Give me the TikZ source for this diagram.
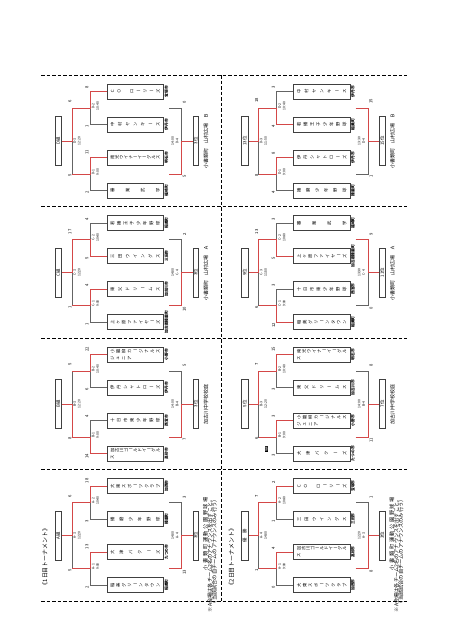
\documentclass[tikz,border=0pt]{standalone}
\usepackage{fontspec}
\setmainfont{Noto Sans CJK JP}
\usepackage{graphicx}
\definecolor{winred}{RGB}{212,72,72}
\definecolor{losegray}{RGB}{100,100,100}

% vertical (tategaki) text, justified along the box
\def\tatechar#1{\ifx#1ー\rotatebox[origin=c]{-90}{ー}\else#1\fi}
\def\tcell#1{\hbox to 6pt{\hss\vbox to 4.4pt{\vss\hbox{\tatechar{#1}}\vss}\hss}}
\def\tatefirst#1{\tcell{#1}\tatenext}
\def\tatenext#1{\ifx#1\relax\else\vfill\tcell{#1}\expandafter\tatenext\fi}
\newcommand\tate[1]{\vbox to 50pt{\offinterlineskip\tatefirst#1\relax}}
\newcommand\tatetwo[2]{\hbox{\tate{#2}\kern1pt\tate{#1}}}

\newcommand\setgroup[3]{\def\ox{#1}\def\yd{#2}\def\pre{#3}}

% one match: vertical x, input x, top y, bottom y, output x, 1 = top wins
\newcommand\match[6]{%
  \pgfmathsetmacro\ym{((#3)+(#4))/2}%
  \ifnum#6=1
    \draw[gl] (#1,\ym) -- (#1,#4) -- (#2,#4);
    \draw[rl] (#2,#3) -- (#1,#3) -- (#1,\ym) -- (#5,\ym);
  \else
    \draw[gl] (#1,\ym) -- (#1,#3) -- (#2,#3);
    \draw[rl] (#2,#4) -- (#1,#4) -- (#1,\ym) -- (#5,\ym);
  \fi}
\newcommand\brlines[4]{%
  \match{\ox+72}{\ox+90}{\yd+33}{\yd+99}{\ox+61.5}{#3}%
  \match{\ox+90}{\ox+107}{\yd+16.5}{\yd+49.5}{\ox+72}{#1}%
  \match{\ox+90}{\ox+107}{\yd+82.5}{\yd+115.5}{\ox+72}{#2}%
  \match{\ox+181.5}{\ox+169}{\yd+33}{\yd+99}{\ox+193}{#4}}
\newcommand\teams[8]{%
  \node[tbox] (\pre-1) at (\ox+135.25,\yd+16.5) {#1};
  \node[city] (\pre-1c) at (\ox+166.5,\yd+16.5) {#2};
  \node[tbox] (\pre-2) at (\ox+135.25,\yd+49.5) {#3};
  \node[city] (\pre-2c) at (\ox+166.5,\yd+49.5) {#4};
  \node[tbox] (\pre-3) at (\ox+135.25,\yd+82.5) {#5};
  \node[city] (\pre-3c) at (\ox+166.5,\yd+82.5) {#6};
  \node[tbox] (\pre-4) at (\ox+135.25,\yd+115.5) {#7};
  \node[city] (\pre-4c) at (\ox+166.5,\yd+115.5) {#8};}
\newcommand\scores[8]{%
  \node[score,anchor=west] (\pre-s1) at (\ox+87,\yd+14) {#1};
  \node[score,anchor=east] (\pre-s2) at (\ox+87,\yd+50) {#2};
  \node[score,anchor=west] (\pre-s3) at (\ox+87,\yd+80) {#3};
  \node[score,anchor=east] (\pre-s4) at (\ox+87,\yd+116) {#4};
  \node[score,anchor=west] (\pre-s5) at (\ox+70,\yd+28) {#5};
  \node[score,anchor=east] (\pre-s6) at (\ox+70,\yd+99) {#6};
  \node[score,anchor=west] (\pre-s7) at (\ox+184.5,\yd+29) {#7};
  \node[score,anchor=east] (\pre-s8) at (\ox+184.5,\yd+100) {#8};}
\newcommand\mlabels[4]{%
  \node[mlab] (\pre-m2) at (\ox+95.5,\yd+31) {#1};
  \node[mlab] (\pre-m1) at (\ox+95.5,\yd+97) {#2};
  \node[mlab] (\pre-m3) at (\ox+77,\yd+66) {#3};
  \node[mlab] (\pre-m4) at (\ox+175,\yd+66) {#4};}
\newcommand\gboxes[2]{%
  \node[lbox] (\pre-lab) at (\ox+58.25,\yd+66) {#1};
  \node[rbox] (\pre-rank) at (\ox+195.75,\yd+66) {#2};}

\begin{document}
\begin{tikzpicture}[x=1pt,y=-1pt,
  gl/.style={draw=losegray,line width=0.6pt},
  rl/.style={draw=winred,line width=1pt},
  sepline/.style={draw=black,line width=0.9pt,dash pattern=on 3.5pt off 2pt},
  tbox/.style={draw=black!75,line width=0.5pt,rotate=90,minimum width=15pt,minimum height=56.5pt,inner sep=0pt,font=\fontsize{4.3}{4.3}\selectfont},
  lbox/.style={draw=black!75,line width=0.5pt,rotate=90,minimum width=49pt,minimum height=6.5pt,inner sep=0pt,font=\fontsize{4.4}{4.4}\selectfont},
  rbox/.style={lbox,minimum height=5.5pt},
  city/.style={rotate=90,inner sep=0pt,font=\fontsize{3.8}{3.8}\selectfont\bfseries},
  score/.style={rotate=90,inner sep=0pt,font=\fontsize{4.2}{4.2}\selectfont},
  mlab/.style={rotate=90,inner sep=0pt,align=center,font=\fontsize{3.4}{4.5}\selectfont},
  venue/.style={rotate=90,inner sep=0pt,font=\fontsize{5}{5}\selectfont},
  note/.style={rotate=90,inner sep=0pt,anchor=east,font=\fontsize{5.2}{5.2}\selectfont},
  ttl/.style={rotate=90,inner sep=0pt,font=\fontsize{5.9}{5.9}\selectfont},
  blk/.style={rotate=90,fill=black,text=white,inner sep=0.5pt,font=\fontsize{2.6}{2.6}\selectfont}]
\fill[white] (0,0) rectangle (452,640);
\useasboundingbox (0,0) rectangle (452,640);

% separators
\foreach \yy in {75,206.5,338,469.5,601} \draw[sepline] (41,\yy) -- (407,\yy);
\draw[sepline] (221.5,75) -- (221.5,601);

% titles
\node[ttl] (title1) at (45,557) {《1日目トーナメント》};
\node[ttl] (title2) at (231.5,557) {《2日目トーナメント》};

% ===== Day 1 =====
\setgroup{0}{75}{LD}
\brlines{1}{1}{1}{0}
\teams{\tate{ＣＯ　ローリーズ}}{宝塚市}{\tate{中村ヤンキース}}{伊丹市}{\tate{南光ウイナーイーグルス}}{明石市}{\tate{審業武学}}{福崎町}
\scores{8}{1}{11}{2}{6}{5}{0}{5}
\mlabels{D-2\\10:40}{D-1\\9:00}{D-3\\12:20}{14:00\\D-4}
\gboxes{D組}{3位}
\node[venue] (LD-v) at (\ox+206,\yd+66) {小書類町　山村広場　Ｂ};

\setgroup{0}{206.5}{LC}
\brlines{0}{1}{1}{0}
\teams{\tate{若播王子少年野球}}{稲美町}{\tate{三田ウイングス}}{三田市}{\tate{東父ドリームス}}{加古川市}{\tate{上ヶ原ファイヤーズ}}{加古郡播磨町}
\scores{4}{5}{4}{1}{17}{1}{2}{10}
\mlabels{C-2\\10:40}{C-1\\9:00}{C-3\\12:20}{14:00\\C-4}
\gboxes{C組}{3位}
\node[venue] (LC-v) at (\ox+206,\yd+66) {小書類町　山村広場　Ａ};

\setgroup{0}{338}{LB}
\brlines{1}{0}{0}{0}
\teams{\tatetwo{小籠柳カージナルス}{ジュニア　　　　　}}{小野市}{\tate{伊丹シャトローズ}}{伊丹市}{\tate{十日市東少年野球}}{西宮市}{\tatetwo{加古川ゴールドイーグル}{ス　　　　　　　　　　}}{高砂市}
\scores{22}{6}{4}{14}{5}{8}{5}{7}
\mlabels{B-2\\10:40}{B-1\\9:00}{B-3\\12:20}{14:00\\B-4}
\gboxes{B組}{3位}
\node[venue] (LB-v) at (\ox+206,\yd+66) {加古川中学校校庭};

\setgroup{0}{469.5}{LA}
\brlines{1}{1}{1}{0}
\teams{\tate{大東スポーツクラブ}}{加西市}{\tate{播磨少年野球}}{播磨町}{\tate{大津バクーズ}}{たつの市}{\tate{稲美グリーンタウン}}{稲美町}
\scores{18}{3}{13}{2}{6}{5}{3}{13}
\mlabels{A-2\\10:40}{A-1\\9:00}{A-3\\12:20}{14:00\\A-4}
\gboxes{A組}{3位}
\node[note,font=\fontsize{5.2}{5.2}\selectfont\addfontfeature{LetterSpace=30}] (LA-v) at (\ox+205.5,497) {小書類町運動公園野球場};
\node[note] (LA-n1) at (\ox+210,497) {※A会場は各チーム2名のアナウンスを出すこと。};
\node[note] (LA-n2) at (\ox+214.5,497) {（当該試合の自チームのアナウンスのみ行う）};

% ===== Day 2 =====
\setgroup{186.5}{75}{RD}
\brlines{0}{1}{1}{1}
\teams{\tate{中村ヤンキース}}{伊丹市}{\tate{若播王子少年野球}}{稲美町}{\tate{伊丹シャトローズ}}{伊丹市}{\tate{播磨少年野球}}{播磨町}
\scores{3}{4}{8}{4}{18}{8}{15}{1}
\mlabels{D-2\\10:40}{D-1\\9:00}{D-3\\11:50}{13:30\\D-4}
\gboxes{13位}{15位}
\node[venue] (RD-v) at (\ox+206,\yd+66) {小書類町　山村広場　Ｂ};

\setgroup{186.5}{206.5}{RC}
\brlines{0}{0}{1}{1}
\teams{\tate{審業武学}}{福崎町}{\tate{上ヶ原ファイヤーズ}}{加古郡播磨町}{\tate{十日市東少年野球}}{西宮市}{\tate{稲美グリーンタウン}}{稲美町}
\scores{3}{5}{3}{12}{13}{6}{9}{0}
\mlabels{C-2\\10:40}{C-1\\9:00}{C-3\\11:50}{13:30\\C-4}
\gboxes{9位}{11位}
\node[venue] (RC-v) at (\ox+206,\yd+66) {小書類町　山村広場　Ａ};

\setgroup{186.5}{338}{RB}
\brlines{1}{1}{1}{0}
\teams{\tatetwo{南光ウイナーイーグル}{ス　　　　　　　　　}}{明石市}{\tate{東父ドリームス}}{加古川市}{\tatetwo{小籠柳カージナルス}{ジュニア　　　　　}}{小野市}{\tate{大津バクーズ}}{たつの市}
\scores{15}{3}{3}{3}{7}{6}{8}{11}
\mlabels{B-2\\10:40}{B-1\\9:00}{B-3\\12:20}{14:00\\B-4}
\gboxes{5位}{7位}
\node[venue] (RB-v) at (\ox+206,\yd+66) {加古川中学校校庭};
\node[blk] (RB-lot) at (266.5,449) {抽選};

\setgroup{186.5}{469.5}{RA}
\brlines{1}{1}{1}{0}
\teams{\tate{ＣＯ　ローリーズ}}{宝塚市}{\tate{三田ウイングス}}{三田市}{\tatetwo{加古川ゴールドイーグル}{ス　　　　　　　　　　}}{高砂市}{\tate{大東スポーツクラブ}}{加西市}
\scores{2}{1}{4}{0}{7}{1}{1}{8}
\mlabels{A-2\\10:40}{A-1\\9:00}{A-4\\14:00}{12:20\\A-3}
\gboxes{優　勝}{3位}
\node[note,font=\fontsize{5.2}{5.2}\selectfont\addfontfeature{LetterSpace=30}] (RA-v) at (\ox+205.5,497) {小書類町運動公園野球場};
\node[note] (RA-n1) at (\ox+210,497) {※A会場は各チーム2名のアナウンスを出すこと。};
\node[note] (RA-n2) at (\ox+214.5,497) {（当該試合の自チームのアナウンスのみ行う）};
\end{tikzpicture}
\end{document}
